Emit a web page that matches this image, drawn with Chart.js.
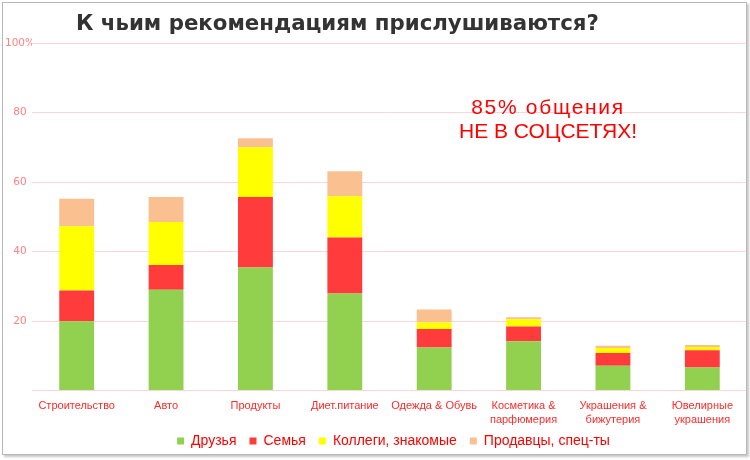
<!DOCTYPE html>
<html>
<head>
<meta charset="utf-8">
<script src="https://cdn.jsdelivr.net/npm/chart.js@4"></script>
<style>
  body { margin: 0; background: #fff; }
  #wrap { position: relative; width: 750px; height: 460px; }
  #frame { position: absolute; left: 2px; top: 2px; width: 743px; height: 451px;
           border: 1px solid #b8b8b8; box-shadow: 2px 2px 2px #c8c8c8; pointer-events: none; }
  #titulo { position: absolute; left: 76px; top: 10px; font: bold 21.3px "DejaVu Sans", Verdana, sans-serif;
            color: #333; white-space: nowrap; }
  #nota { position: absolute; left: 448px; top: 95px; width: 200px; text-align: center;
          font: 21px "Liberation Sans", Arial, sans-serif; line-height: 24px; color: #ff0000; }
  #nota span { letter-spacing: 1.7px; }
  canvas { position: absolute; left: 0; top: 0; }
</style>
</head>
<body>
<div id="wrap">
  <canvas id="grafico" width="750" height="460"></canvas>
  <div id="titulo">К чьим рекомендациям прислушиваются?</div>
  <div id="nota"><span>85% общения</span><br>НЕ В СОЦСЕТЯХ!</div>
  <div id="frame"></div>
</div>
<script>
// Categorías
const categorias = [
    'Строительство', 'Авто', 'Продукты', 'Диет.питание', 'Одежда & Обувь',
    ['Косметика &', 'парфюмерия'], ['Украшения &', 'бижутерия'], ['Ювелирные', 'украшения']
];

// Series (en %)
const druzya   = [19.9, 29.0, 35.4, 27.9, 12.4, 14.2, 7.1, 6.6];
const semya    = [8.9, 7.1, 20.3, 16.1, 5.3, 4.2, 3.7, 5.0];
const kollegi  = [18.5, 12.4, 14.3, 11.9, 1.9, 2.1, 1.4, 0.9];
const prodavcy = [7.9, 7.2, 2.6, 7.2, 3.7, 0.6, 0.7, 0.6];

// Ticks del eje Y
const ticksY = [0, 20, 40, 60, 80, 100];

const fuente = '"Liberation Sans", Arial, sans-serif';

// Colocar la leyenda como en el original (ligeramente a la derecha del centro)
const leyendaDesplazada = {
    id: 'leyendaDesplazada',
    afterLayout(chart) {
        const lg = chart.legend;
        lg.left = 37;
        lg.right = 750;
        lg.top = 421;
        lg.bottom = 458;
    }
};

new Chart(document.getElementById('grafico').getContext('2d'), {
    type: 'bar',
    data: {
        labels: categorias,
        datasets: [
            { label: 'Друзья', data: druzya, backgroundColor: '#92d050' },
            { label: 'Семья', data: semya, backgroundColor: '#ff3b3b' },
            { label: 'Коллеги, знакомые', data: kollegi, backgroundColor: '#ffff00' },
            { label: 'Продавцы, спец-ты', data: prodavcy, backgroundColor: '#fac090' }
        ]
    },
    options: {
        responsive: false,
        animation: false,
        layout: { padding: { left: 0, right: 3, top: 43, bottom: -5 } },
        datasets: { bar: { barPercentage: 0.39, categoryPercentage: 1 } },
        plugins: {
            title: { display: false },
            tooltip: { enabled: false },
            legend: {
                position: 'bottom',
                labels: {
                    boxWidth: 7, boxHeight: 7, padding: 13,
                    color: '#ff0000',
                    font: { family: fuente, size: 14 }
                }
            }
        },
        scales: {
            x: {
                stacked: true,
                grid: { display: false },
                border: { display: false },
                ticks: {
                    color: '#ff2a2a', padding: 1, maxRotation: 0, autoSkip: false,
                    font: { family: fuente, size: 11, lineHeight: 1.25 }
                }
            },
            y: {
                stacked: true,
                min: 0, max: 100,
                afterFit(s) { s.width = 32; },
                afterBuildTicks(s) { s.ticks = ticksY.map(v => ({ value: v })); },
                grid: { color: '#fcd6d6', drawTicks: false },
                border: { display: false },
                ticks: {
                    color: '#ff8282', padding: -3, crossAlign: 'center',
                    font: { family: '"DejaVu Sans", sans-serif', size: 10.5 },
                    callback: v => v === 0 ? '' : (v === 100 ? '100%' : v)
                }
            }
        }
    },
    plugins: [leyendaDesplazada]
});
</script>
</body>
</html>
